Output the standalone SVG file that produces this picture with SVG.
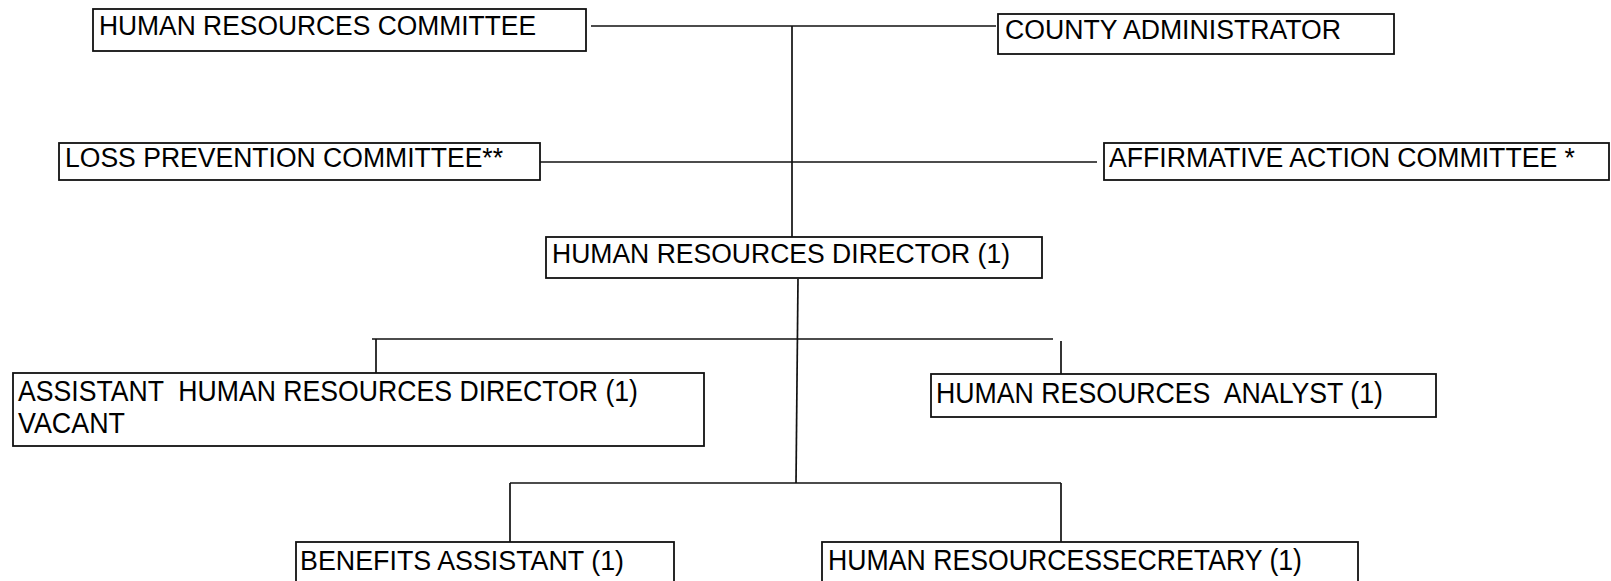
<svg xmlns="http://www.w3.org/2000/svg" width="1611" height="581" viewBox="0 0 1611 581">
<style>
.box{fill:#fff;stroke:#111;stroke-width:1.8}
.t{font-family:"Liberation Sans",Arial,sans-serif;font-size:27px;fill:#000;white-space:pre}
.n{font-family:"Liberation Sans",Arial,sans-serif;font-size:29px;fill:#000;white-space:pre}
.c{fill:none;stroke:#111;stroke-width:1.7}
</style>
<rect width="1611" height="581" fill="#fff"/>
<g id="connectors">
<line class="c" x1="591" y1="26" x2="996" y2="26"/>
<line class="c" x1="792" y1="26" x2="792" y2="242"/>
<line class="c" x1="540" y1="162" x2="1097" y2="162"/>
<line class="c" x1="798" y1="279" x2="796" y2="483"/>
<line class="c" x1="372" y1="339" x2="1053" y2="339"/>
<line class="c" x1="376" y1="339" x2="376" y2="373"/>
<line class="c" x1="1061" y1="341" x2="1061" y2="375"/>
<line class="c" x1="510" y1="483" x2="1061" y2="483"/>
<line class="c" x1="510" y1="483" x2="510" y2="542"/>
<line class="c" x1="1061" y1="483" x2="1061" y2="542"/>
</g>
<g id="hr-committee">
<rect class="box" x="93" y="9" width="493" height="42"/>
<text class="t" x="99" y="35" textLength="437" lengthAdjust="spacingAndGlyphs">HUMAN RESOURCES COMMITTEE</text>
</g>
<g id="county-admin">
<rect class="box" x="998" y="14" width="396" height="40"/>
<text class="t" x="1005" y="39" textLength="336" lengthAdjust="spacingAndGlyphs">COUNTY ADMINISTRATOR</text>
</g>
<g id="loss-prevention">
<rect class="box" x="59" y="143" width="481" height="37"/>
<text class="t" x="65" y="167" textLength="438" lengthAdjust="spacingAndGlyphs">LOSS PREVENTION COMMITTEE**</text>
</g>
<g id="affirmative-action">
<rect class="box" x="1104" y="143" width="505" height="37"/>
<text class="t" x="1109" y="167" textLength="466" lengthAdjust="spacingAndGlyphs">AFFIRMATIVE ACTION COMMITTEE *</text>
</g>
<g id="hr-director">
<rect class="box" x="546" y="237" width="496" height="41"/>
<text class="t" x="552" y="263" textLength="458" lengthAdjust="spacingAndGlyphs">HUMAN RESOURCES DIRECTOR (1)</text>
</g>
<g id="assistant-director">
<rect class="box" x="13" y="373" width="691" height="73"/>
<text class="n" x="18" y="401" textLength="620" lengthAdjust="spacingAndGlyphs" xml:space="preserve">ASSISTANT  HUMAN RESOURCES DIRECTOR (1)</text>
<text class="n" x="18" y="433" textLength="107" lengthAdjust="spacingAndGlyphs">VACANT</text>
</g>
<g id="hr-analyst">
<rect class="box" x="931" y="374" width="505" height="43"/>
<text class="n" x="936" y="403" textLength="447" lengthAdjust="spacingAndGlyphs" xml:space="preserve">HUMAN RESOURCES  ANALYST (1)</text>
</g>
<g id="benefits-assistant">
<rect class="box" x="296" y="542" width="378" height="60"/>
<text class="t" x="300" y="570" textLength="324" lengthAdjust="spacingAndGlyphs">BENEFITS ASSISTANT (1)</text>
</g>
<g id="hr-secretary">
<rect class="box" x="822" y="542" width="536" height="60"/>
<text class="n" x="828" y="570" textLength="474" lengthAdjust="spacingAndGlyphs">HUMAN RESOURCESSECRETARY (1)</text>
</g>
</svg>
